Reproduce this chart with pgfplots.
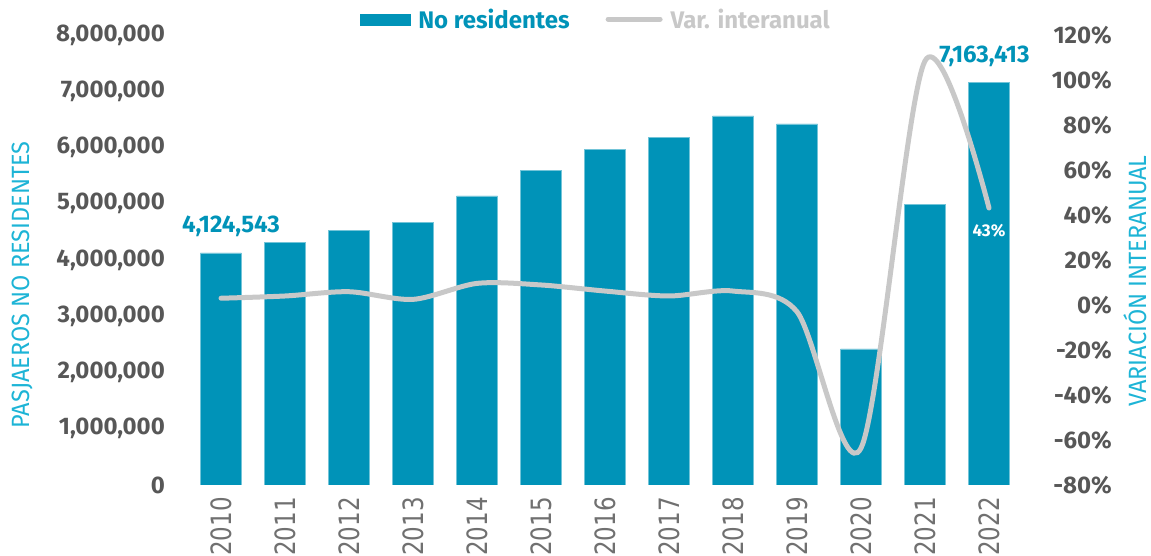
\documentclass[border=0pt]{standalone}
\usepackage{pgfplots}
\pgfplotsset{compat=1.18}
\usepackage{fontspec}
\setmainfont{Fira Sans}
\newfontfamily\yearfont[FakeStretch=0.82]{DejaVu Sans}
\newfontfamily\titlefont[FakeStretch=0.94]{Fira Sans}

\definecolor{barblue}{HTML}{0093B8}
\definecolor{linegray}{HTML}{C8C8C8}
\definecolor{tickgray}{HTML}{575757}
\definecolor{yeargray}{HTML}{707070}
\definecolor{titlecyan}{HTML}{1DB4D6}

\begin{document}
\begin{tikzpicture}
\pgfplotsset{
  common/.style={
    width=832pt, height=450pt, scale only axis,
    xmin=-0.5, xmax=12.5,
    axis line style={draw=none},
    major tick length=0pt,
    yticklabel style={font=\bfseries\fontsize{24}{28}\selectfont, text=tickgray, inner sep=0pt, anchor=east},
  }
}
% pasajeros no residentes (barras)
\begin{axis}[common,
  ymin=0, ymax=8000000,
  ytick={0,1000000,...,8000000},
  scaled y ticks=false,
  /pgf/number format/fixed,
  /pgf/number format/1000 sep={,},
  /pgf/number format/assume math mode=true,
  yticklabel shift=24pt,
  xtick={0,...,12},
  xticklabels={2010,2011,2012,2013,2014,2015,2016,2017,2018,2019,2020,2021,2022},
  xticklabel style={rotate=90, anchor=east, inner sep=0pt, text=yeargray,
    font=\yearfont\fontsize{28}{32}\selectfont},
  xticklabel shift=12pt,
]
\addplot[ybar, bar width=41pt, fill=barblue, draw=barblue!55!white, line width=0.6pt] coordinates {
  (0,4124543) (1,4310000) (2,4530000) (3,4670000) (4,5140000)
  (5,5590000) (6,5960000) (7,6180000) (8,6560000) (9,6420000)
  (10,2420000) (11,4990000) (12,7163413)
};
\coordinate (lab2010) at (axis cs:0,4124543);
\coordinate (lab2022) at (axis cs:12,7163413);
\end{axis}

% variacion interanual (linea)
\begin{axis}[common,
  ymin=-80, ymax=120,
  ytick={-80,-60,...,120},
  yticklabels={-80\%,-60\%,-40\%,-20\%,0\%,20\%,40\%,60\%,80\%,100\%,120\%},
  axis y line*=right, axis x line=none,
  yticklabel shift=91pt,
  legend style={at={(0.489,1.035)}, anchor=center, draw=none, fill=none,
    font=\bfseries\fontsize{24}{28}\selectfont,
    /tikz/every odd column/.append style={column sep=6pt},
    /tikz/every even column/.append style={column sep=34pt}},
  legend columns=2,
  legend cell align=left,
]
\addlegendimage{legend image code/.code={\fill[barblue] (0pt,-5.5pt) rectangle (50pt,5.5pt);}}
\addlegendentry{\textcolor{barblue}{No residentes}}
\addplot[linegray, line width=5pt, line cap=round, smooth,
  legend image code/.code={\draw[linegray, line width=5pt, line cap=round] (2pt,0pt) -- (54pt,0pt);}]
  coordinates {
  (0,3.0) (1,4.0) (2,5.9) (3,2.5) (4,9.6) (5,8.9) (6,6.2)
  (7,4.0) (8,6.2) (9,-3.0) (10,-63.6) (11,108.5) (12,43.1)
};
\addlegendentry{\textcolor{linegray}{Var. interanual}}
\node[text=white, font=\bfseries\fontsize{17}{20}\selectfont, yshift=-23pt] at (axis cs:12,43.1) {43\%};
\end{axis}

\node[text=barblue, font=\bfseries\fontsize{24}{28}\selectfont, xshift=10pt, yshift=26.5pt] at (lab2010) {4,124,543};
\node[text=barblue, font=\bfseries\fontsize{24}{28}\selectfont, xshift=-4.5pt, yshift=25.5pt] at (lab2022) {7,163,413};

\node[rotate=90, text=titlecyan, font=\titlefont\fontsize{25}{30}\selectfont] at (-167pt,200pt) {PASJAEROS NO RESIDENTES};
\node[rotate=90, text=titlecyan, font=\titlefont\fontsize{25}{30}\selectfont] at (946pt,204pt) {VARIACIÓN INTERANUAL};

\pgfresetboundingbox
\useasboundingbox (-189pt,-71pt) rectangle (962pt,485pt);
\end{tikzpicture}
\end{document}
